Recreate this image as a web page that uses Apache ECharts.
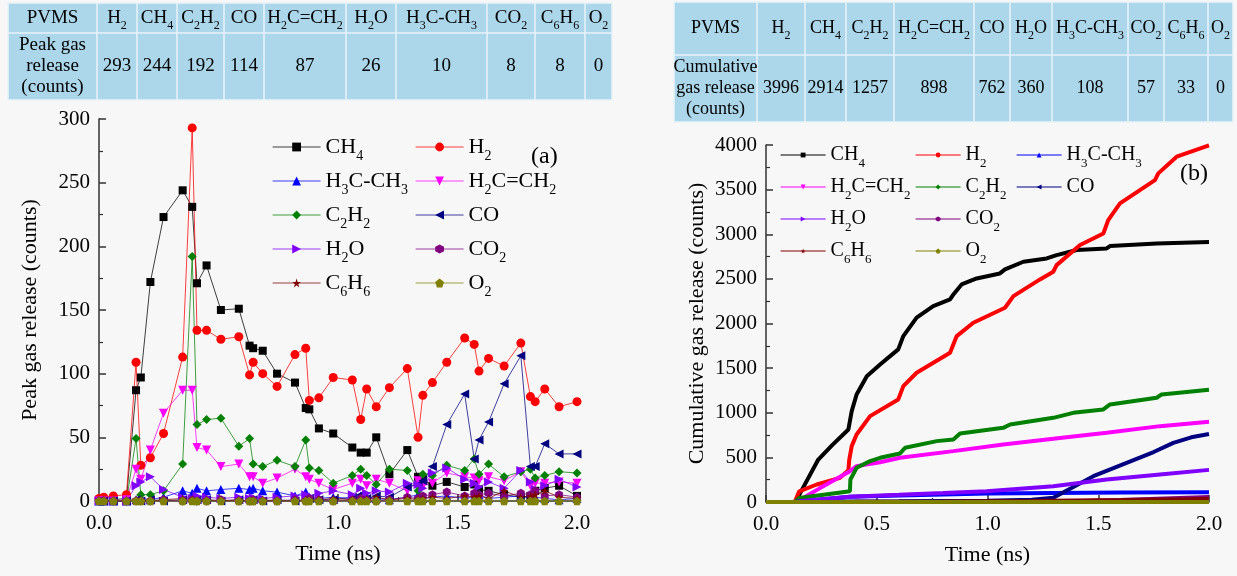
<!DOCTYPE html>
<html>
<head>
<meta charset="utf-8">
<script src="https://cdn.jsdelivr.net/npm/echarts@6.0.0/dist/echarts.min.js"></script>
<style>
html, body { margin: 0; padding: 0; background: #f7f7f7; }
#main { width: 1237px; height: 576px; }
</style>
</head>
<body>
<div id="main"></div>
<script>
var FONT = "'Liberation Serif', 'Times New Roman', serif";

// legend / drawing order
var gases = ['CH4', 'H2', 'H3C-CH3', 'H2C=CH2', 'C2H2', 'CO', 'H2O', 'CO2', 'C6H6', 'O2'];

// (a) peak gas release, counts at each sampled time (ns)
var peakTime = [0.00, 0.02, 0.06, 0.115, 0.155, 0.175, 0.215, 0.27, 0.35, 0.39, 0.41, 0.45, 0.51, 0.585, 0.63,
  0.645, 0.685, 0.745, 0.82, 0.865, 0.88, 0.92, 0.98, 1.06, 1.095, 1.12, 1.16, 1.215, 1.29, 1.335, 1.355,
  1.395, 1.455, 1.53, 1.57, 1.59, 1.63, 1.695, 1.765, 1.805, 1.825, 1.865, 1.925, 2.0];
var peakCH4 = [0, 0, 1, 2, 87, 97, 172, 223, 244, 231, 171, 185, 150, 151, 122, 120, 118, 100, 93, 73, 72, 57,
  53, 42, 38, 38, 50, 21, 40, 19, 17, 12, 15, 11, 13, 9, 8, 5, 3, 4, 8, 10, 12, 4];
var peakH2 = [2, 3, 4, 5, 109, 28, 34, 53, 113, 293, 134, 134, 127, 129, 99, 109, 100, 90, 115, 120, 79, 81,
  97, 95, 64, 88, 74, 89, 104, 50, 83, 93, 109, 128, 123, 102, 112, 106, 124, 82, 78, 88, 74, 78];
var peakH3CCH3 = [0, 0, 0, 0, 1, 2, 1, 3, 8, 6, 10, 8, 9, 10, 9, 10, 8, 7, 4, 7, 3, 2, 3, 2, 4, 3, 2, 1, 3, 5,
  2, 3, 4, 2, 3, 5, 2, 3, 4, 2, 3, 2, 1, 2];
var peakH2CCH2 = [0, 0, 0, 1, 25, 17, 40, 69, 87, 87, 42, 40, 27, 29, 19, 19, 14, 18, 25, 19, 17, 14, 9, 14,
  17, 12, 17, 14, 8, 16, 12, 14, 22, 19, 18, 16, 19, 16, 23, 12, 14, 14, 15, 14];
var peakC2H2 = [0, 0, 0, 0, 49, 5, 5, 8, 29, 192, 60, 64, 65, 43, 49, 29, 27, 32, 27, 48, 26, 24, 14, 20, 25,
  20, 13, 25, 24, 8, 21, 20, 28, 24, 33, 21, 29, 19, 23, 25, 18, 20, 23, 22];
var peakCO = [0, 0, 0, 0, 1, 0, 1, 0, 1, 0, 1, 1, 0, 1, 0, 1, 0, 1, 0, 1, 2, 1, 1, 3, 5, 2, 4, 3, 11, 13, 16,
  27, 60, 84, 33, 48, 62, 92, 114, 27, 27, 45, 37, 37];
var peakH2O = [0, 0, 0, 0, 12, 15, 19, 9, 3, 2, 4, 3, 2, 3, 2, 3, 2, 3, 4, 5, 4, 6, 8, 5, 10, 6, 8, 7, 14, 13,
  10, 22, 26, 17, 14, 11, 15, 10, 24, 15, 9, 12, 17, 11];
var peakCO2 = [0, 0, 0, 0, 0, 0, 0, 1, 0, 1, 0, 0, 1, 0, 0, 1, 0, 0, 1, 0, 2, 1, 0, 1, 2, 1, 0, 1, 3, 2, 4, 5,
  7, 4, 6, 5, 6, 4, 6, 5, 8, 4, 5, 3];
var peakC6H6 = [0, 0, 0, 0, 1, 0, 0, 1, 2, 1, 0, 1, 0, 1, 0, 0, 1, 0, 0, 1, 0, 1, 2, 1, 0, 1, 3, 1, 2, 1, 2, 3,
  2, 4, 3, 4, 2, 8, 3, 4, 5, 8, 3, 2];
var peakO2 = [0, 0, 0, 0, 0, 0, 0, 0, 0, 0, 0, 0, 0, 0, 0, 0, 0, 0, 0, 0, 0, 0, 0, 0, 0, 0, 0, 0, 0, 0, 0, 0,
  0, 0, 0, 0, 0, 0, 0, 0, 0, 0, 0, 0];

// (b) cumulative gas release, [time (ns), counts]
var cumCH4 = [[0, 0], [0.13, 0], [0.15, 80], [0.236, 476], [0.30, 640], [0.372, 813], [0.387, 1018], [0.409, 1205],
  [0.455, 1410], [0.515, 1541], [0.597, 1710], [0.62, 1859], [0.68, 2065], [0.755, 2195], [0.831, 2270],
  [0.846, 2326], [0.883, 2438], [0.951, 2505], [1.056, 2561], [1.079, 2606], [1.162, 2692], [1.267, 2729],
  [1.312, 2766], [1.403, 2823], [1.538, 2841], [1.553, 2867], [1.764, 2897], [2.0, 2914]];
var cumH2 = [[0, 0], [0.13, 0], [0.15, 120], [0.229, 196], [0.334, 271], [0.372, 357], [0.376, 476], [0.387, 626],
  [0.409, 757], [0.47, 962], [0.597, 1149], [0.62, 1298], [0.68, 1448], [0.831, 1672], [0.861, 1859],
  [0.936, 2009], [1.079, 2177], [1.117, 2307], [1.237, 2494], [1.297, 2580], [1.312, 2654], [1.418, 2879],
  [1.523, 3009], [1.545, 3159], [1.598, 3346], [1.756, 3607], [1.771, 3682], [1.854, 3869], [2.0, 3996]];
var cumH3CCH3 = [[0, 0], [0.13, 0], [0.15, 6], [0.379, 60], [0.6, 72], [0.8, 85], [1.0, 95], [1.3, 102],
  [1.6, 106], [2.0, 108]];
var cumH2CCH2 = [[0, 0], [0.13, 0], [0.15, 20], [0.24, 150], [0.379, 345], [0.409, 402], [0.515, 446],
  [0.605, 495], [0.846, 570], [1.071, 645], [1.297, 708], [1.538, 776], [1.779, 850], [2.0, 898]];
var cumC2H2 = [[0, 0], [0.13, 0], [0.15, 45], [0.379, 121], [0.381, 252], [0.409, 383], [0.47, 458], [0.515, 495],
  [0.605, 544], [0.628, 607], [0.771, 682], [0.846, 701], [0.876, 768], [1.071, 831], [1.102, 869],
  [1.297, 943], [1.387, 999], [1.523, 1037], [1.553, 1093], [1.764, 1168], [1.786, 1205], [2.0, 1257]];
var cumCO = [[0, 0], [0.13, 0], [0.15, 3], [0.6, 8], [1.0, 15], [1.2, 25], [1.297, 47], [1.478, 289],
  [1.628, 439], [1.75, 560], [1.839, 663], [1.92, 725], [2.0, 762]];
var cumH2O = [[0, 0], [0.13, 0], [0.15, 8], [0.379, 60], [0.6, 80], [0.8, 100], [0.996, 121], [1.297, 177],
  [1.538, 252], [1.779, 308], [2.0, 360]];
var cumCO2 = [[0, 0], [1.2, 0], [1.4, 8], [1.6, 22], [1.8, 40], [2.0, 57]];
var cumC6H6 = [[0, 0], [0.4, 2], [0.8, 6], [1.2, 12], [1.6, 22], [2.0, 33]];
var cumO2 = [[0, 0], [2.0, 0]];

// tables above the plots
var peakTableGases = ['H2', 'CH4', 'C2H2', 'CO', 'H2C=CH2', 'H2O', 'H3C-CH3', 'CO2', 'C6H6', 'O2'];
var peakTableValues = [293, 244, 192, 114, 87, 26, 10, 8, 8, 0];
var cumTableGases = ['H2', 'CH4', 'C2H2', 'H2C=CH2', 'CO', 'H2O', 'H3C-CH3', 'CO2', 'C6H6', 'O2'];
var cumTableValues = [3996, 2914, 1257, 898, 762, 360, 108, 57, 33, 0];

var peakData = { 'CH4': peakCH4, 'H2': peakH2, 'H3C-CH3': peakH3CCH3, 'H2C=CH2': peakH2CCH2, 'C2H2': peakC2H2,
  'CO': peakCO, 'H2O': peakH2O, 'CO2': peakCO2, 'C6H6': peakC6H6, 'O2': peakO2 };
var cumData = { 'CH4': cumCH4, 'H2': cumH2, 'H3C-CH3': cumH3CCH3, 'H2C=CH2': cumH2CCH2, 'C2H2': cumC2H2,
  'CO': cumCO, 'H2O': cumH2O, 'CO2': cumCO2, 'C6H6': cumC6H6, 'O2': cumO2 };

var colors = { 'CH4': '#000000', 'H2': '#ff0000', 'H3C-CH3': '#0000ff', 'H2C=CH2': '#ff00ff', 'C2H2': '#008000',
  'CO': '#000080', 'H2O': '#8000ff', 'CO2': '#800080', 'C6H6': '#800000', 'O2': '#808000' };
var HEX = 'path://M0,-1L0.866,-0.5L0.866,0.5L0,1L-0.866,0.5L-0.866,-0.5Z';
var STAR = 'path://M0,-1L0.2245,-0.309L0.951,-0.309L0.363,0.118L0.588,0.809L0,0.382L-0.588,0.809L-0.363,0.118L-0.951,-0.309L-0.2245,-0.309Z';
var PENT = 'path://M0,-1L0.951,-0.309L0.588,0.809L-0.588,0.809L-0.951,-0.309Z';
var symbols = { 'CH4': 'rect', 'H2': 'circle', 'H3C-CH3': 'triangle', 'H2C=CH2': 'triangle', 'C2H2': 'diamond',
  'CO': 'triangle', 'H2O': 'triangle', 'CO2': HEX, 'C6H6': STAR, 'O2': PENT };
var rotations = { 'H2C=CH2': 180, 'CO': 90, 'H2O': -90 };
var richNames = { 'CH4': 'CH{s|4}', 'H2': 'H{s|2}', 'H3C-CH3': 'H{s|3}C-CH{s|3}', 'H2C=CH2': 'H{s|2}C=CH{s|2}',
  'C2H2': 'C{s|2}H{s|2}', 'CO': 'CO', 'H2O': 'H{s|2}O', 'CO2': 'CO{s|2}', 'C6H6': 'C{s|6}H{s|6}', 'O2': 'O{s|2}' };

function subStyle(size, pad) {
  return { s: { fontSize: size, lineHeight: size, padding: [pad, 0, 0, 0], verticalAlign: 'bottom',
    fontFamily: FONT, color: '#000', fill: '#000' } };
}

var series = [];
gases.forEach(function (g) {
  series.push({
    name: g, type: 'line', xAxisIndex: 0, yAxisIndex: 0,
    data: peakTime.map(function (t, i) { return [t, peakData[g][i]]; }),
    symbol: symbols[g], symbolSize: g === 'CH4' ? 8 : 9, symbolRotate: rotations[g] || 0,
    symbolKeepAspect: true,
    lineStyle: { width: 1, color: colors[g], opacity: 0.75 },
    itemStyle: { color: colors[g] }
  });
});
gases.forEach(function (g) {
  series.push({
    name: 'b-' + g, type: 'line', xAxisIndex: 1, yAxisIndex: 1,
    data: cumData[g], showSymbol: false,
    symbol: symbols[g], symbolRotate: rotations[g] || 0, symbolKeepAspect: true,
    lineStyle: { width: 4, color: colors[g] },
    itemStyle: { color: colors[g] }
  });
});

function legendCol(names, left, top, size, sub, lh, itemW, itemH) {
  return {
    orient: 'vertical', left: left, top: top, padding: 0, itemGap: 2,
    itemWidth: itemW, itemHeight: itemH, data: names,
    lineStyle: { width: 1.2 },
    formatter: function (n) { return richNames[n.replace('b-', '')]; },
    textStyle: { fontSize: size, fontFamily: FONT, color: '#000', lineHeight: lh,
      rich: subStyle(sub, lh - sub) }
  };
}

var legends = [
  legendCol(['CH4', 'H3C-CH3', 'C2H2', 'H2O', 'C6H6'], 272, 131, 22, 14, 32, 48, 11),
  legendCol(['H2', 'H2C=CH2', 'CO', 'CO2', 'O2'], 415, 131, 22, 14, 32, 48, 11),
  legendCol(['b-CH4', 'b-H2C=CH2', 'b-H2O', 'b-C6H6'], 780, 140, 20, 13, 30, 45, 6),
  legendCol(['b-H2', 'b-C2H2', 'b-CO2', 'b-O2'], 915, 140, 20, 13, 30, 45, 6),
  legendCol(['b-H3C-CH3', 'b-CO'], 1016, 140, 20, 13, 30, 45, 6)
];

// table graphics
function buildTable(cols, top, mid, bottom, gasList, values, rowTitle, fs) {
  var els = [];
  var x0 = cols[0], x1 = cols[cols.length - 1];
  els.push({ type: 'rect', shape: { x: x0, y: top, width: x1 - x0, height: bottom - top },
    style: { fill: '#acd6e9', stroke: '#e9f3f8', lineWidth: 1.5 } });
  els.push({ type: 'line', shape: { x1: x0, y1: mid, x2: x1, y2: mid }, style: { stroke: '#e9f3f8', lineWidth: 1.5 } });
  for (var i = 1; i < cols.length - 1; i++) {
    els.push({ type: 'line', shape: { x1: cols[i], y1: top, x2: cols[i], y2: bottom },
      style: { stroke: '#e9f3f8', lineWidth: 1.5 } });
  }
  var heads = ['PVMS'].concat(gasList.map(function (g) { return richNames[g]; }));
  var vals = [rowTitle].concat(values.map(String));
  for (var c = 0; c < cols.length - 1; c++) {
    var cx = (cols[c] + cols[c + 1]) / 2;
    els.push({ type: 'text', x: cx, y: (top + mid) / 2, style: { text: heads[c], fill: '#000', fontSize: fs,
      fontFamily: FONT, lineHeight: 27, align: 'center', verticalAlign: 'middle', rich: subStyle(12, 15) } });
    els.push({ type: 'text', x: cx, y: (mid + bottom) / 2, style: { text: vals[c], fill: '#000', fontSize: fs,
      fontFamily: FONT, lineHeight: 21, align: 'center', verticalAlign: 'middle' } });
  }
  return els;
}

var graphics = []
  .concat(buildTable([8, 97, 137, 177, 224, 264, 346, 396, 487, 535, 585, 612], 3, 33, 100,
    peakTableGases, peakTableValues, 'Peak gas\nrelease\n(counts)', 19))
  .concat(buildTable([674, 757, 805, 846, 894, 974, 1010, 1052, 1128, 1164, 1208, 1233], 2, 55, 122,
    cumTableGases, cumTableValues, 'Cumulative\ngas release\n(counts)', 18))
  .concat([
    { type: 'text', x: 531, y: 157, style: { text: '(a)', fontSize: 24, fontFamily: FONT, fill: '#000', verticalAlign: 'middle' } },
    { type: 'text', x: 1180, y: 174, style: { text: '(b)', fontSize: 24, fontFamily: FONT, fill: '#000', verticalAlign: 'middle' } }
  ]);

function xAxisOf(grid) {
  return {
    type: 'value', gridIndex: grid, min: 0, max: 2, interval: 0.5,
    name: 'Time (ns)', nameLocation: 'middle', nameGap: 42,
    nameTextStyle: { fontSize: 22, fontFamily: FONT, color: '#000' },
    axisLine: { show: true, onZero: false, lineStyle: { color: '#333', width: 1.5 } },
    axisTick: { show: true, inside: true, length: 7, lineStyle: { color: '#333', width: 1.5 } },
    minorTick: { show: true, splitNumber: 2, length: 4, lineStyle: { color: '#333', width: 1.2 } },
    axisLabel: { fontSize: 21, fontFamily: FONT, color: '#000', margin: 12,
      formatter: function (v) { return v.toFixed(1); } },
    splitLine: { show: false }
  };
}
function yAxisOf(grid, max, interval, name, gap) {
  return {
    type: 'value', gridIndex: grid, min: 0, max: max, interval: interval,
    name: name, nameLocation: 'middle', nameGap: gap,
    nameTextStyle: { fontSize: 22, fontFamily: FONT, color: '#000' },
    axisLine: { show: true, onZero: false, lineStyle: { color: '#333', width: 1.5 } },
    axisTick: { show: true, inside: true, length: 7, lineStyle: { color: '#333', width: 1.5 } },
    minorTick: { show: true, splitNumber: 2, length: 4, lineStyle: { color: '#333', width: 1.2 } },
    axisLabel: { fontSize: 21, fontFamily: FONT, color: '#000', margin: 9,
      formatter: function (v) { return String(v); } },
    splitLine: { show: false }
  };
}

var chart = echarts.init(document.getElementById('main'));
chart.setOption({
  animation: false,
  backgroundColor: '#f7f7f7',
  grid: [
    { left: 99, top: 119, width: 478, height: 382, outerBoundsMode: 'none' },
    { left: 766, top: 145, width: 443, height: 357, outerBoundsMode: 'none' }
  ],
  xAxis: [xAxisOf(0), xAxisOf(1)],
  yAxis: [yAxisOf(0, 300, 50, 'Peak gas release (counts)', 58),
          yAxisOf(1, 4000, 500, 'Cumulative gas release (counts)', 58)],
  legend: legends,
  graphic: graphics,
  series: series
});
</script>
</body>
</html>
